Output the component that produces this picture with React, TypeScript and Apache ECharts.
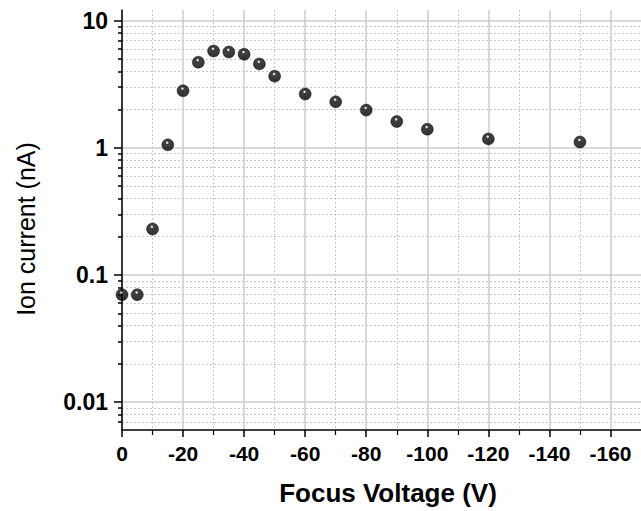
import React, { useEffect, useRef } from "react";
import * as echarts from "echarts";

const focusVoltage = [0, -5, -10, -15, -20, -25, -30, -35, -40, -45, -50, -60, -70, -80, -90, -100, -120, -150];
const ionCurrent = [0.07, 0.07, 0.23, 1.055, 2.81, 4.71, 5.77, 5.67, 5.44, 4.57, 3.66, 2.65, 2.3, 1.98, 1.61, 1.4, 1.175, 1.11];

const xMajorTicks = [0, -20, -40, -60, -80, -100, -120, -140, -160];
const xMinorTicks = [-10, -30, -50, -70, -90, -110, -130, -150];
const yMajorTicks = [0.01, 0.1, 1, 10];
const yMinorTicks = [
  0.006, 0.007, 0.008, 0.009,
  0.02, 0.03, 0.04, 0.05, 0.06, 0.07, 0.08, 0.09,
  0.2, 0.3, 0.4, 0.5, 0.6, 0.7, 0.8, 0.9,
  2, 3, 4, 5, 6, 7, 8, 9,
];

const X_MIN = -170;
const X_MAX = 0;
const Y_MIN = 0.00604;
const Y_MAX = 12.13;

const FONT = "'Liberation Sans', Arial, Helvetica, sans-serif";

export default function App() {
  const ref = useRef<HTMLDivElement>(null);

  useEffect(() => {
    document.body.style.margin = "0";
    if (!ref.current) return;
    const chart = echarts.init(ref.current, null, { renderer: "svg" });

    const sphere = new echarts.graphic.RadialGradient(0.45, 0.32, 0.65, [
      { offset: 0, color: "#ffffff" },
      { offset: 0.08, color: "#dddddd" },
      { offset: 0.22, color: "#111111" },
      { offset: 1, color: "#000000" },
    ]);

    chart.setOption({
      animation: false,
      backgroundColor: "#fff",
      grid: { left: 122, right: -4, top: 10, bottom: 79, containLabel: false },
      xAxis: [
        {
          type: "value",
          min: X_MIN,
          max: X_MAX,
          inverse: true,
          name: "Focus Voltage (V)",
          nameLocation: "middle",
          nameGap: 50,
          nameTextStyle: {
            fontFamily: FONT,
            fontWeight: "bold",
            fontSize: 26,
            color: "#000",
            padding: [0, 0, 0, 13],
          },
          axisLine: { show: true, onZero: false, lineStyle: { color: "#000", width: 1.5 } },
          axisTick: { show: true, length: 7, customValues: xMajorTicks, lineStyle: { color: "#000", width: 1.5 } },
          axisLabel: {
            fontFamily: FONT,
            fontWeight: "bold",
            fontSize: 21,
            color: "#000",
            margin: 13,
            customValues: xMajorTicks,
            formatter: (v: number) => String(v),
          },
          splitLine: { show: true, lineStyle: { color: "#cccccc", width: 1.5 } },
        },
        {
          type: "value",
          min: X_MIN,
          max: X_MAX,
          inverse: true,
          position: "bottom",
          axisLine: { show: false },
          axisTick: { show: true, length: 5, customValues: xMinorTicks, lineStyle: { color: "#000", width: 1.2 } },
          axisLabel: { show: false },
          splitLine: { show: true, lineStyle: { color: "#c8c8c8", width: 1, type: [2, 2] } },
        },
      ],
      yAxis: [
        {
          type: "log",
          logBase: 10,
          min: Y_MIN,
          max: Y_MAX,
          name: "Ion current (nA)",
          nameLocation: "middle",
          nameGap: 84,
          nameTextStyle: {
            fontFamily: FONT,
            fontSize: 25,
            color: "#000",
            padding: [0, 18, 0, 0],
          },
          axisLine: { show: true, onZero: false, lineStyle: { color: "#000", width: 1.5 } },
          axisTick: { show: true, length: 8, customValues: yMajorTicks, lineStyle: { color: "#000", width: 1.5 } },
          axisLabel: {
            fontFamily: FONT,
            fontWeight: "bold",
            fontSize: 23,
            color: "#000",
            margin: 14,
            customValues: yMajorTicks,
            formatter: (v: number) => String(v),
          },
          splitLine: { show: true, lineStyle: { color: "#cccccc", width: 1.5 } },
        },
        {
          type: "log",
          logBase: 10,
          min: Y_MIN,
          max: Y_MAX,
          position: "left",
          axisLine: { show: false },
          axisTick: { show: true, length: 4, customValues: yMinorTicks, lineStyle: { color: "#000", width: 1.5 } },
          axisLabel: { show: false },
          splitLine: { show: true, lineStyle: { color: "#c8c8c8", width: 1, type: [2, 2] } },
        },
      ],
      series: [
        {
          type: "scatter",
          xAxisIndex: 0,
          yAxisIndex: 0,
          clip: true,
          symbol: "circle",
          symbolSize: 12,
          itemStyle: { color: sphere, borderColor: "#000", borderWidth: 0.5 },
          data: focusVoltage.map((x, i) => [x, ionCurrent[i]]),
          z: 5,
        },
      ],
    });

    return () => {
      chart.dispose();
    };
  }, []);

  return <div ref={ref} style={{ width: 641, height: 511 }} />;
}
